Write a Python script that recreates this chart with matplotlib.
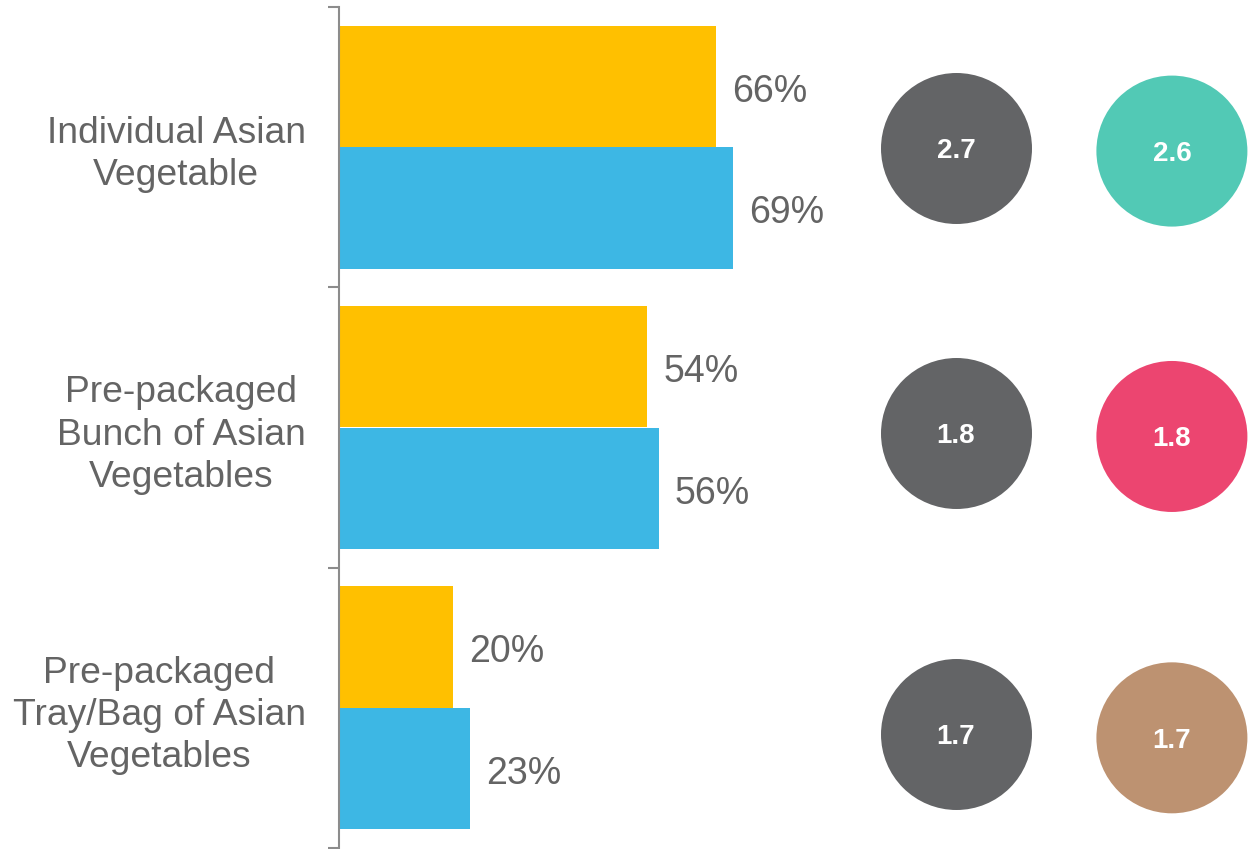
import numpy as np
import matplotlib
matplotlib.use("Agg")
import matplotlib.pyplot as plt

plt.rcParams['font.family'] = ['Liberation Sans', 'DejaVu Sans']

categories = ["Individual Asian\nVegetable",
              "Pre-packaged\nBunch of Asian\nVegetables",
              "Pre-packaged\nTray/Bag of Asian\nVegetables"]
share_a = [66, 54, 20]   # yellow series, %
share_b = [69, 56, 23]   # blue series, %
score_a = [2.7, 1.8, 1.7]
score_b = [2.6, 1.8, 1.7]

YELLOW = "#FFC000"
BLUE = "#3DB7E4"
GREY_TXT = "#646464"
CIRCLE_GREY = "#636466"
CIRCLE_COLS = ["#52C9B5", "#EC4570", "#BD9271"]

W, H = 1257, 849
fig = plt.figure(figsize=(W / 100, H / 100), dpi=100)

# bar panel, placed in pixel terms
x0, x1, ytop, ybot = 339, 910, 7, 848
ax = fig.add_axes([x0 / W, (H - ybot) / H, (x1 - x0) / W, (ybot - ytop) / H])

y = np.arange(len(categories))
bh = 0.433
off = 0.217
bars_a = ax.barh(y - off, share_a, height=bh, color=YELLOW)
bars_b = ax.barh(y + off, share_b, height=bh, color=BLUE)

for bars, vals in ((bars_a, share_a), (bars_b, share_b)):
    for b, v in zip(bars, vals):
        ax.annotate(f"{v}%", (b.get_width(), b.get_y() + b.get_height() / 2),
                    xytext=(11.5, -1), textcoords="offset points",
                    ha="left", va="center_baseline", fontsize=27, color=GREY_TXT)

ax.set_xlim(0, 100)
ax.set_ylim(len(categories) - 0.5, -0.5)

for s in ("top", "right", "bottom"):
    ax.spines[s].set_visible(False)
ax.spines["left"].set_color("#8C8C8C")
ax.spines["left"].set_linewidth(1.5)
ax.set_xticks([])

ax.set_yticks(np.arange(len(categories) + 1) - 0.5)
ax.set_yticklabels([])
ax.tick_params(axis="y", which="major", length=8, width=1.5, color="#8C8C8C")
ax.set_yticks(y, minor=True)
ax.set_yticklabels(categories, minor=True, fontsize=26.8, color=GREY_TXT,
                   multialignment="center", linespacing=1.26)
ax.tick_params(axis="y", which="minor", length=0, pad=24)

# score circles on the right
cx0 = 860
cax = fig.add_axes([cx0 / W, (H - ybot) / H, (W - cx0) / W, (ybot - ytop) / H],
                   sharey=ax)
cax.set_xlim(-0.444, 1.394)
cax.axis("off")

circle_rows = np.array([0.002, 1.02, 2.095])
size = (2 * 75.5 * 0.72) ** 2
cax.scatter(np.zeros(3), circle_rows, s=size, color=CIRCLE_GREY, linewidths=0)
cax.scatter(np.ones(3), circle_rows + 0.012, s=size, color=CIRCLE_COLS, linewidths=0)
for r, a, b in zip(circle_rows, score_a, score_b):
    cax.text(0, r, f"{a}", ha="center", va="center_baseline", fontsize=20,
             fontweight="bold", color="white")
    cax.text(1, r + 0.012, f"{b}", ha="center", va="center_baseline", fontsize=20,
             fontweight="bold", color="white")

fig.savefig("out.png", dpi=100)
